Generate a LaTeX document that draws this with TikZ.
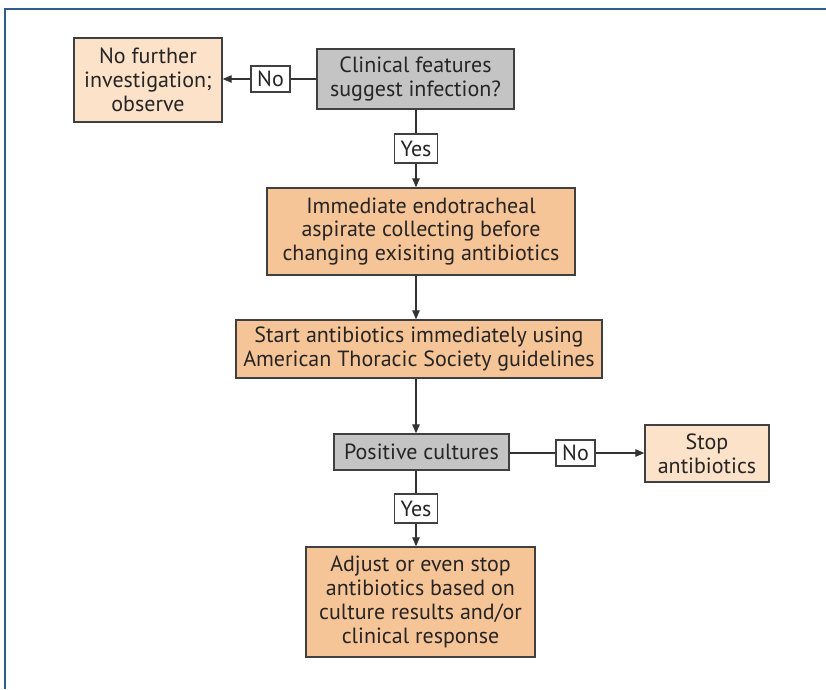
\documentclass[tikz,border=0pt]{standalone}
\usepackage{fontspec}
\setmainfont{PT Sans}
\usetikzlibrary{arrows.meta}
\definecolor{grayfill}{HTML}{C4C4C4}
\definecolor{darkor}{HTML}{F6C597}
\definecolor{lightor}{HTML}{FCE2C8}
\definecolor{edge}{HTML}{404040}
\definecolor{txt}{HTML}{262424}
\definecolor{frame}{HTML}{2E5E8E}
\tikzset{
  box/.style={draw=edge, line width=1.4pt, inner sep=0pt, align=center, text=txt,
    font=\fontsize{22}{23.8}\selectfont},
  graybox/.style={box, fill=grayfill},
  orbox/.style={box, fill=darkor},
  ltbox/.style={box, fill=lightor},
  lbl/.style={draw=edge, line width=1.2pt, fill=white, inner sep=0pt, text=txt,
    font=\fontsize{22}{23}\selectfont},
  conn/.style={draw=edge!80!black, line width=1.2pt},
  arr/.style={conn, -{Triangle[length=9pt,width=7.5pt]}}
}
\begin{document}
\begin{tikzpicture}[x=1pt,y=-1pt]
\useasboundingbox (0,0) rectangle (826,689);
\draw[frame, line width=2pt] (5,689) -- (5,9) -- (826,9);

\node[ltbox, minimum width=148pt, minimum height=84pt] (nofurther) at (148,80) {No further\\investigation;\\observe};
\node[graybox, minimum width=197pt, minimum height=60pt] (clinical) at (415.5,79) {Clinical features\\suggest infection?};
\node[lbl, minimum width=39pt, minimum height=26pt] (no1) at (270.5,79) {No};
\node[lbl, minimum width=43pt, minimum height=29pt] (yes1) at (416,148.5) {Yes};
\node[orbox, minimum width=308pt, minimum height=87pt] (immediate) at (421,231.5) {Immediate endotracheal\\aspirate collecting before\\changing exisiting antibiotics};
\node[orbox, minimum width=366pt, minimum height=58pt] (start) at (419,349) {Start antibiotics immediately using\\American Thoracic Society guidelines};
\node[graybox, minimum width=175pt, minimum height=36pt] (positive) at (421.5,452) {Positive cultures};
\node[lbl, minimum width=39pt, minimum height=26pt] (no2) at (575.5,453) {No};
\node[ltbox, minimum width=124pt, minimum height=57pt] (stop) at (707,453.5) {Stop\\antibiotics};
\node[lbl, minimum width=43pt, minimum height=29pt] (yes2) at (416,508.5) {Yes};
\node[orbox, minimum width=229pt, minimum height=110pt] (adjust) at (420.5,602) {Adjust or even stop\\antibiotics based on\\culture results and/or\\clinical response};

\draw[conn] (clinical.west |- no1) -- (no1.east);
\draw[arr] (no1.west) -- (nofurther.east |- no1);
\draw[conn] (yes1 |- clinical.south) -- (yes1.north);
\draw[arr] (yes1.south) -- (yes1 |- immediate.north);
\draw[arr] (yes1 |- immediate.south) -- (yes1 |- start.north);
\draw[arr] (yes1 |- start.south) -- (yes1 |- positive.north);
\draw[conn] (positive.east |- no2) -- (no2.west);
\draw[arr] (no2.east) -- (stop.west |- no2);
\draw[conn] (yes2 |- positive.south) -- (yes2.north);
\draw[arr] (yes2.south) -- (yes2 |- adjust.north);
\end{tikzpicture}
\end{document}
